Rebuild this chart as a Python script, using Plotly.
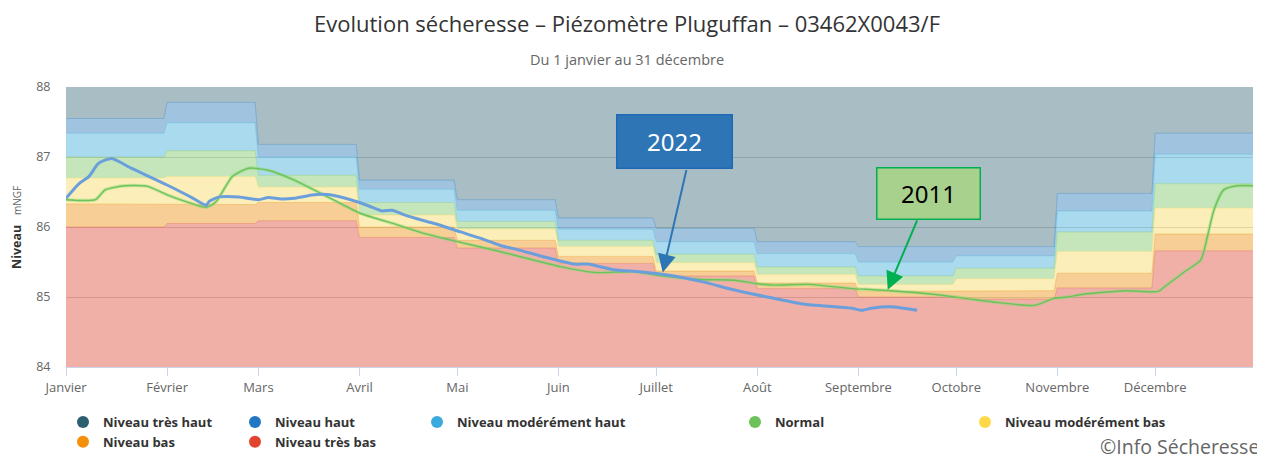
import plotly.graph_objects as go
import numpy as np
import pandas as pd

YEAR = 2022
MONTH_NAMES = ["Janvier", "Février", "Mars", "Avril", "Mai", "Juin", "Juillet",
               "Août", "Septembre", "Octobre", "Novembre", "Décembre"]

# Monthly thresholds (mNGF), bottom to top of each level band
seuil_tres_bas = [86.00, 86.05, 86.09, 85.85, 85.70, 85.48, 85.30, 85.12, 85.00, 84.97, 85.13, 85.66]
seuil_bas      = [86.33, 86.32, 86.35, 86.00, 85.81, 85.58, 85.37, 85.20, 85.08, 85.09, 85.34, 85.90]
seuil_mod_bas  = [86.70, 86.72, 86.57, 86.17, 85.97, 85.72, 85.49, 85.32, 85.18, 85.26, 85.65, 86.27]
seuil_normal   = [87.00, 87.09, 86.74, 86.35, 86.08, 85.81, 85.61, 85.43, 85.30, 85.41, 85.93, 86.62]
seuil_mod_haut = [87.34, 87.49, 87.00, 86.54, 86.24, 85.97, 85.79, 85.62, 85.50, 85.59, 86.23, 87.04]
seuil_haut     = [87.55, 87.78, 87.18, 86.67, 86.39, 86.13, 85.98, 85.79, 85.72, 85.72, 86.48, 87.34]
Y_MIN, Y_MAX = 84, 88

# Piezometric level 2022
dates_2022 = ["01-01", "01-05", "01-08", "01-11", "01-15", "01-21", "02-01", "02-09", "02-13", "02-14",
              "02-17", "02-23", "03-01", "03-04", "03-08", "03-12", "03-18", "03-23", "04-01", "04-05",
              "04-08", "04-11", "04-15", "04-20", "04-24", "05-02", "05-08", "05-14", "05-20", "05-27",
              "06-06", "06-10", "06-18", "06-26", "07-05", "07-15", "07-25", "08-04", "08-15", "08-25",
              "08-30", "09-02", "09-05", "09-11", "09-19"]
niveau_2022 = [86.41, 86.62, 86.72, 86.91, 86.98, 86.84, 86.60, 86.41, 86.31, 86.37,
               86.43, 86.43, 86.39, 86.42, 86.40, 86.41, 86.46, 86.46, 86.35, 86.28,
               86.23, 86.24, 86.17, 86.10, 86.05, 85.93, 85.84, 85.74, 85.67, 85.58,
               85.47, 85.47, 85.39, 85.36, 85.31, 85.22, 85.10, 85.00, 84.90, 84.86,
               84.84, 84.81, 84.84, 84.86, 84.81]

# Piezometric level 2011
dates_2011 = ["01-01", "01-10", "01-13", "01-19", "01-26", "02-01", "02-07", "02-13", "02-16", "02-21",
              "02-26", "03-04", "03-12", "03-21", "04-01", "04-12", "04-20", "05-02", "05-14", "06-02",
              "06-12", "06-24", "07-03", "07-15", "07-25", "08-01", "08-06", "08-17", "08-30", "09-03",
              "09-11", "09-24", "10-04", "10-14", "10-25", "10-31", "11-04", "11-09", "11-22", "12-02",
              "12-04", "12-10", "12-15", "12-17", "12-19", "12-22", "12-26", "12-31"]
niveau_2011 = [86.39, 86.39, 86.53, 86.59, 86.58, 86.46, 86.36, 86.28, 86.36, 86.72,
               86.84, 86.81, 86.67, 86.46, 86.20, 86.04, 85.92, 85.78, 85.65, 85.43,
               85.35, 85.36, 85.30, 85.25, 85.24, 85.19, 85.17, 85.18, 85.12, 85.11,
               85.09, 85.04, 84.98, 84.92, 84.88, 84.98, 85.00, 85.04, 85.09, 85.08,
               85.15, 85.36, 85.53, 85.86, 86.24, 86.53, 86.59, 86.59]

LEVELS = ["Niveau très haut", "Niveau haut", "Niveau modérément haut", "Normal",
          "Niveau modérément bas", "Niveau bas", "Niveau très bas"]
LEVEL_COLORS = ["#2b5f6f", "#1f76c2", "#3aaade", "#6cc35a", "#ffd84a", "#f5900a", "#e0442e"]
BAND_FILLS = ["rgba(61,111,124,0.45)", "rgba(44,124,186,0.45)", "rgba(66,173,217,0.45)",
              "rgba(124,199,102,0.45)", "rgba(248,217,97,0.45)", "rgba(235,146,22,0.45)",
              "rgba(222,79,61,0.45)"]
BAND_LINES = ["rgba(61,111,124,0.25)", "rgba(44,124,186,0.35)", "rgba(66,173,217,0.35)",
              "rgba(124,199,102,0.35)", "rgba(248,217,97,0.35)", "rgba(235,146,22,0.35)",
              "rgba(222,79,61,0.3)"]

FONT = "Open Sans"
W, H = 1265, 459
BODY = 8  # default page margin offset

month_starts = pd.date_range(f"{YEAR}-01-01", periods=12, freq="MS")
month_ends = month_starts + pd.offsets.MonthEnd(0)
band_x = []
for s, e in zip(month_starts, month_ends):
    band_x += [s, e]


def stepped(vals):
    out = []
    for v in vals:
        out += [v, v]
    return out


def to_dates(md):
    return pd.to_datetime([f"{YEAR}-{d}" for d in md])


fig = go.Figure()

fig.add_trace(go.Scatter(x=band_x, y=[Y_MIN] * len(band_x), mode="lines",
                         line=dict(width=0), showlegend=False, hoverinfo="skip"))
thresholds = [seuil_tres_bas, seuil_bas, seuil_mod_bas, seuil_normal, seuil_mod_haut, seuil_haut,
              [Y_MAX] * 12]
for i, th in enumerate(thresholds):
    idx = 6 - i
    fig.add_trace(go.Scatter(x=band_x, y=stepped(th), mode="lines", fill="tonexty",
                             fillcolor=BAND_FILLS[idx],
                             line=dict(width=1 if i < 6 else 0, color=BAND_LINES[idx]),
                             showlegend=False, hoverinfo="skip"))

x2011 = to_dates(dates_2011)
x2022 = to_dates(dates_2022)
fig.add_trace(go.Scatter(x=x2011, y=niveau_2011, mode="lines",
                         line=dict(color="rgba(140,215,120,0.45)", width=3.5, shape="spline", smoothing=0.6),
                         showlegend=False, hoverinfo="skip"))
fig.add_trace(go.Scatter(x=x2011, y=niveau_2011, mode="lines", name="2011",
                         line=dict(color="#6cc35a", width=1.4, shape="spline", smoothing=0.6),
                         showlegend=False))
fig.add_trace(go.Scatter(x=x2022, y=niveau_2022, mode="lines", name="2022",
                         line=dict(color="#6a9fdc", width=3, shape="spline", smoothing=0.6),
                         showlegend=False))

legend_cols = {"legend": ["Niveau très haut", "Niveau bas"],
               "legend2": ["Niveau haut", "Niveau très bas"],
               "legend3": ["Niveau modérément haut"],
               "legend4": ["Normal"],
               "legend5": ["Niveau modérément bas"]}
for lg, names in legend_cols.items():
    for n in names:
        fig.add_trace(go.Scatter(x=[None], y=[None], mode="markers", name=n, legend=lg,
                                 marker=dict(symbol="circle", size=12,
                                             color=LEVEL_COLORS[LEVELS.index(n)])))

legend_marker_px = {"legend": 83, "legend2": 255, "legend3": 437, "legend4": 755, "legend5": 985}
legend_style = dict(orientation="v", xref="container", yref="container", yanchor="top",
                    xanchor="left", tracegroupgap=0, bgcolor="rgba(0,0,0,0)", traceorder="normal",
                    font=dict(family=FONT, size=13, color="#333333", weight="bold"))
legends = {}
for lg, px in legend_marker_px.items():
    legends[lg] = dict(legend_style, x=(px - 28) / W, y=1 - 399 / H)


def interp_at(md, dates, vals):
    xs = to_dates(dates).astype("int64")
    t = pd.Timestamp(f"{YEAR}-{md}").value
    return float(np.interp(t, xs, vals))


# plot area in reference page pixels
PL, PR, PT, PB = 66, 1253, 87, 367


def px_x(px):
    return (px - PL) / (PR - PL)


def px_y(py):
    return (PB - py) / (PB - PT)


ANN_2022_DATE = "07-03"
ANN_2011_DATE = "09-10"
annotations = [
    dict(xref="paper", yref="paper", x=px_x(675), y=px_y(141), text="2022", showarrow=False,
         xanchor="center", yanchor="middle", bgcolor="#2e75b6", bordercolor="#1f68b5", borderwidth=1.5,
         width=112, height=50, font=dict(family="Noto Sans", size=24, color="white")),
    dict(x=pd.Timestamp(f"{YEAR}-{ANN_2022_DATE}"),
         y=interp_at(ANN_2022_DATE, dates_2022, niveau_2022) + 0.03,
         text="", showarrow=True, ax=24, ay=-104, arrowhead=2, arrowsize=1.8, arrowwidth=2,
         arrowcolor="#2e75b6", standoff=0),
    dict(xref="paper", yref="paper", x=px_x(928.5), y=px_y(193.5), text="2011", showarrow=False,
         xanchor="center", yanchor="middle", bgcolor="#a9d18e", bordercolor="#00b050", borderwidth=1.5,
         width=100, height=48, font=dict(family="Noto Sans", size=24, color="black")),
    dict(x=pd.Timestamp(f"{YEAR}-{ANN_2011_DATE}"),
         y=interp_at(ANN_2011_DATE, dates_2011, niveau_2011) + 0.01,
         text="", showarrow=True, ax=30, ay=-71, arrowhead=2, arrowsize=1.8, arrowwidth=2,
         arrowcolor="#00b050", standoff=0),
    dict(xref="paper", yref="paper", x=px_x(627), y=px_y(60), text="Du 1 janvier au 31 décembre",
         showarrow=False, font=dict(family=FONT, size=14.5, color="#666666"), yanchor="middle"),
    dict(xref="paper", yref="paper", x=px_x(1260), y=px_y(447), text="©Info Sécheresse",
         showarrow=False, xanchor="right", yanchor="middle", borderpad=0,
         font=dict(family=FONT, size=19.5, color="#666666")),
    dict(xref="paper", yref="paper", x=px_x(16), y=px_y(228), textangle=-90,
         text="<b>Niveau</b>   <span style='font-size:10px;color:#666666'>mNGF</span>",
         showarrow=False, xanchor="center", yanchor="middle",
         font=dict(family=FONT, size=12.5, color="#333333")),
]

fig.update_layout(
    width=W, height=H,
    margin=dict(l=PL - BODY, r=W - (PR - BODY), t=PT - BODY, b=H - (PB - BODY), autoexpand=False),
    paper_bgcolor="white", plot_bgcolor="white",
    title=dict(text="Evolution sécheresse – Piézomètre Pluguffan – 03462X0043/F",
               x=(627 - BODY) / W, xanchor="center",
               y=1 - (24 - BODY) / H, yanchor="middle", yref="container",
               font=dict(family=FONT, size=22, color="#333333")),
    annotations=annotations,
    **legends,
)
fig.update_xaxes(type="date", range=[f"{YEAR}-01-01", f"{YEAR}-12-31"],
                 tickvals=list(month_starts), ticktext=MONTH_NAMES,
                 ticks="outside", ticklen=8, tickcolor="#ccd6eb", showline=True, linecolor="#ccd6eb",
                 showgrid=False, tickfont=dict(family=FONT, size=13, color="#666666"), zeroline=False)
fig.update_yaxes(range=[Y_MIN, Y_MAX], dtick=1, showgrid=True, gridcolor="#d2d2d2",
                 tickfont=dict(family=FONT, size=12.5, color="#666666"), zeroline=False,
                 ticks="outside", ticklen=12, tickcolor="rgba(0,0,0,0)")

fig.write_html("out.html")
